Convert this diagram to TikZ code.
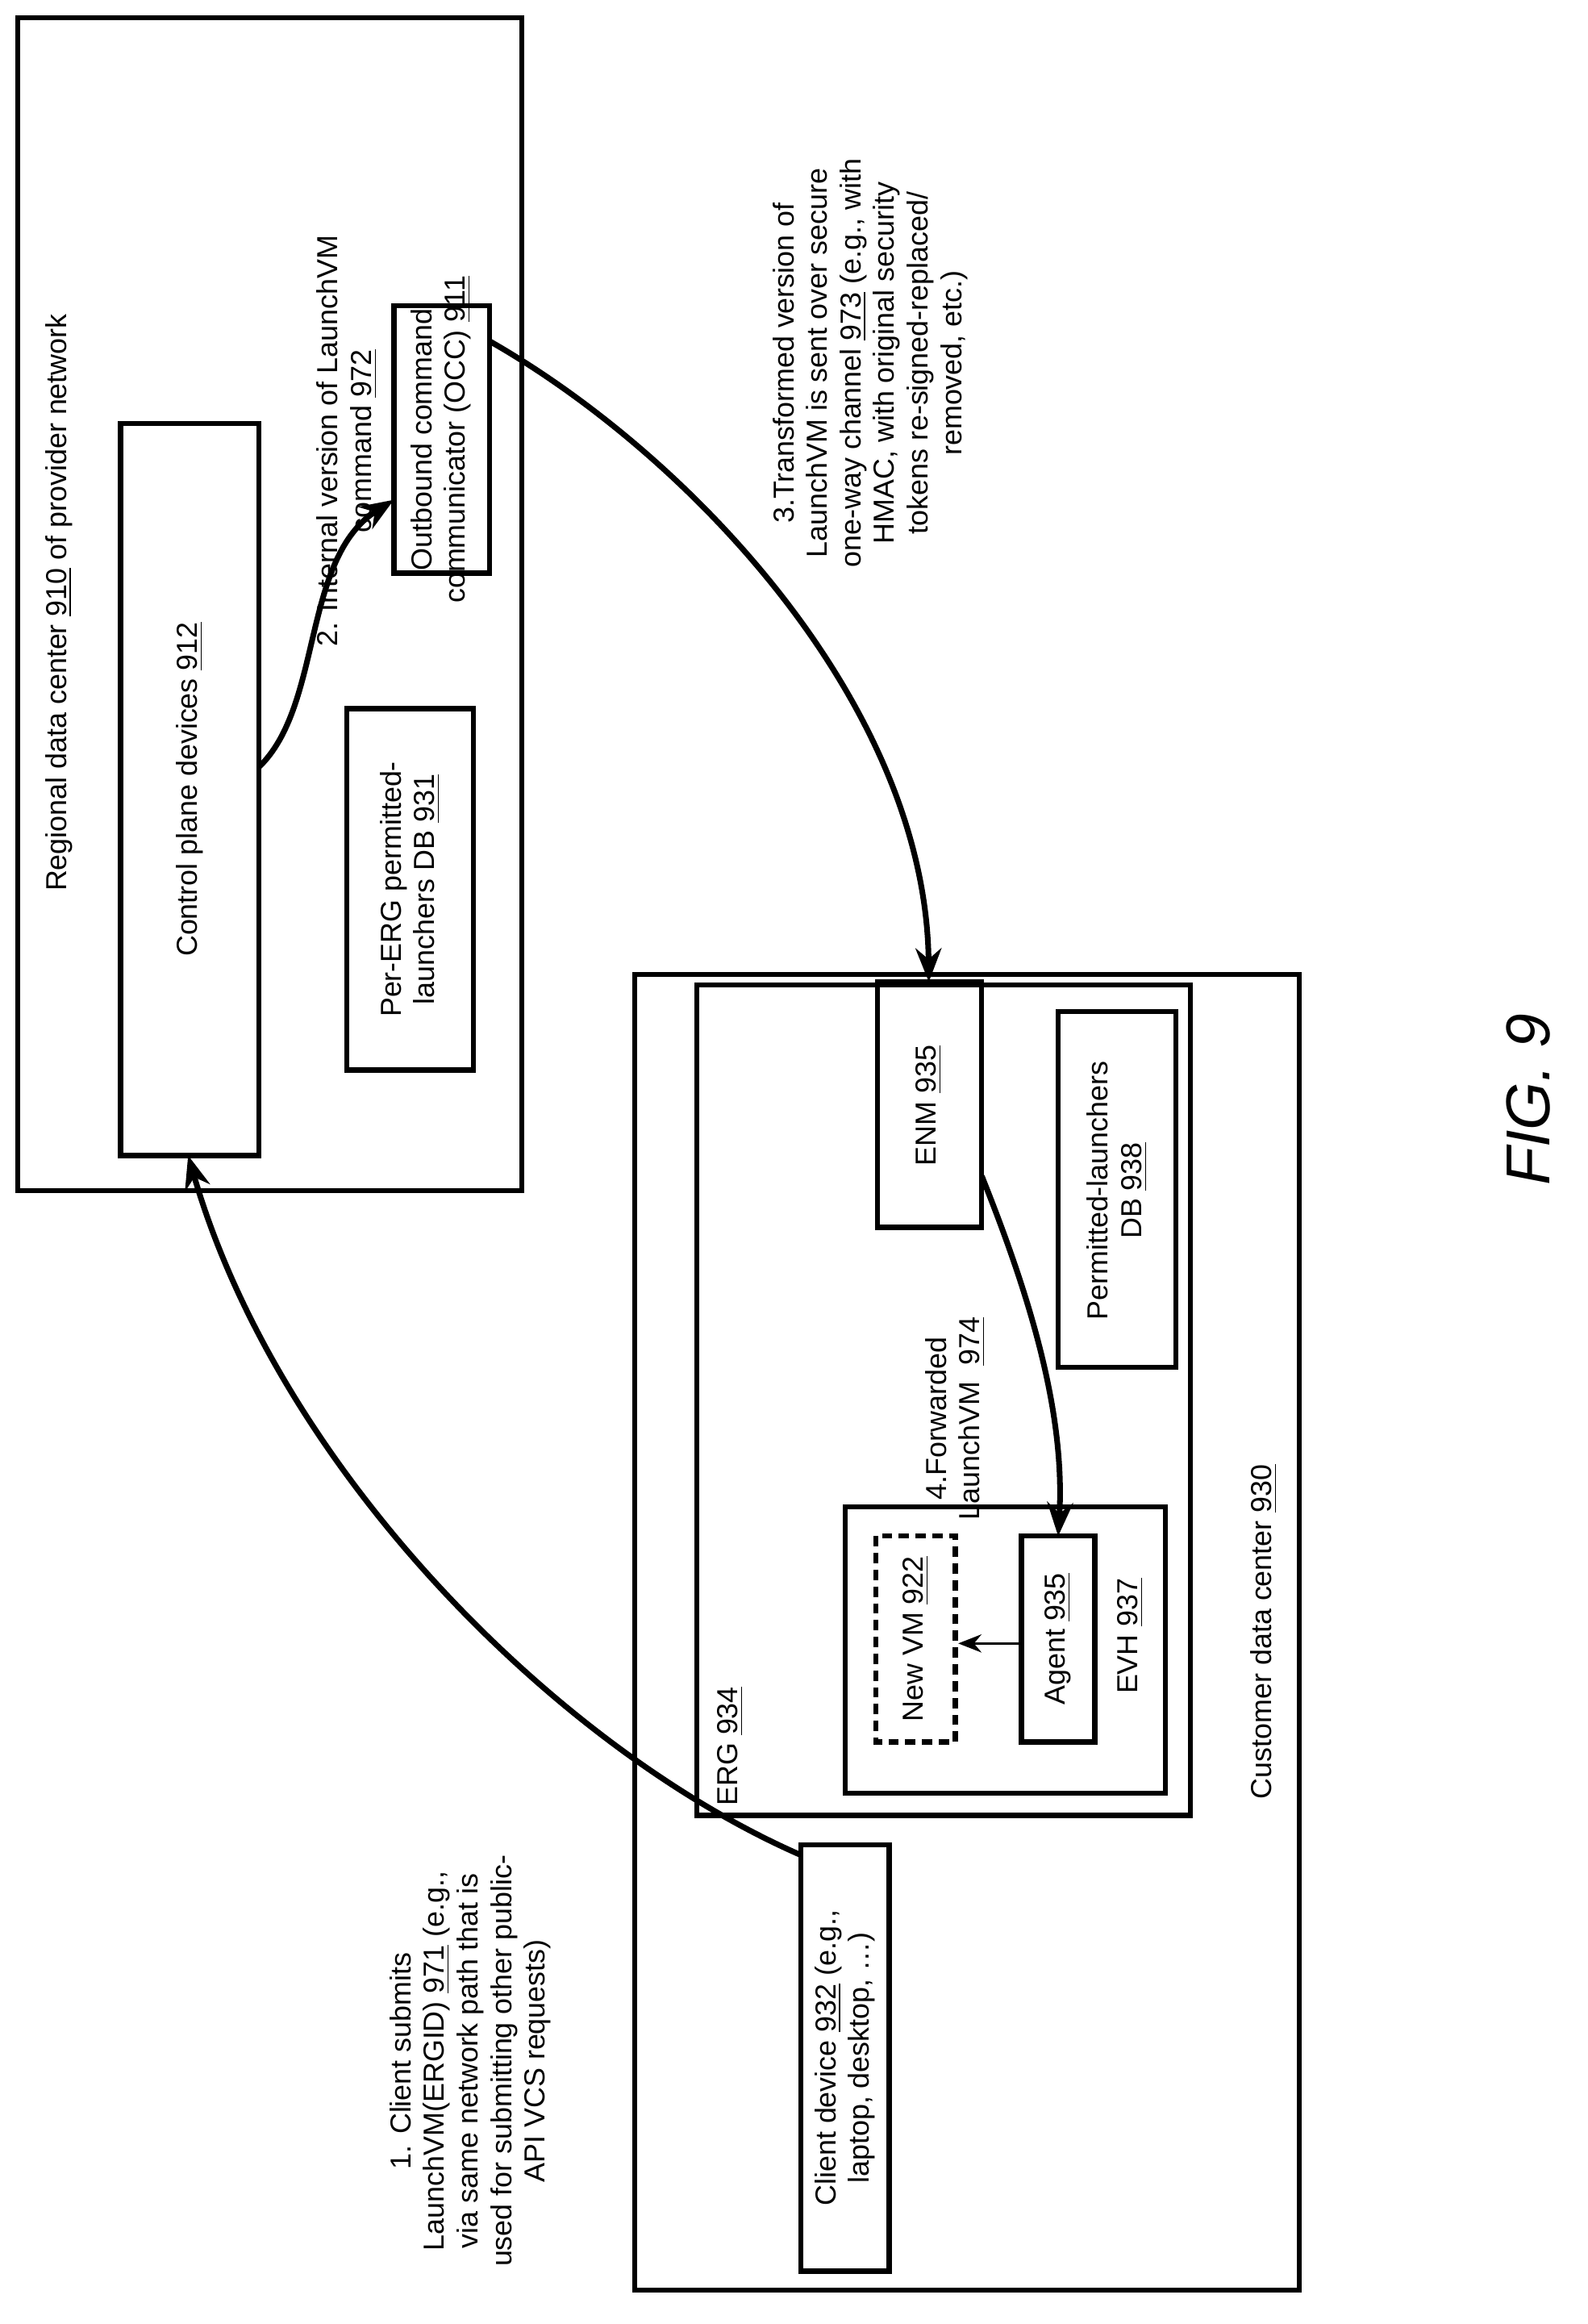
\documentclass[tikz,border=0pt]{standalone}
\usepackage{fontspec}
\setmainfont{Liberation Sans}
\usetikzlibrary{arrows.meta}
\begin{document}
\begin{tikzpicture}[x=0.02cm,y=-0.02cm,
  box/.style={draw,line width=2pt},
  txt/.style={rotate=90,align=center,font=\fontsize{11.2}{13}\selectfont},
  arr/.style={line width=2.2pt,-{Stealth[length=13pt,width=10pt]}}]
\useasboundingbox (0,0) rectangle (1080,1581);
% regional
\draw[box] (12,12) rectangle (355,810);
\node[txt] (regt) at (40,410) {Regional data center \underline{910} of provider network};
\draw[box] (82,288) rectangle (176,786);
\node[txt] (cpt) at (129,537) {Control plane devices \underline{912}};
\draw[box] (268,208) rectangle (333,390);
\node[txt] (occ) at (300,299) {Outbound command\\communicator (OCC) \underline{911}};
\draw[box] (236,482) rectangle (322,728);
\node[txt] (db931) at (279,605) {Per-ERG permitted-\\launchers DB \underline{931}};
\node[txt] (l2) at (236,300) {2. Internal version of LaunchVM\\command \underline{972}};
\node[txt] (l3) at (592,247) {3.Transformed version of\\LaunchVM is sent over secure\\one-way channel \underline{973} (e.g., with\\HMAC, with original security\\tokens re-signed-replaced/\\removed, etc.)};
% customer
\draw[box] (432,663) rectangle (884,1558);
\node[txt] (cdt) at (860,1110) {Customer data center \underline{930}};
\draw[box] (474,670) rectangle (810,1235);
\node[txt] (erg) at (497,1188) {ERG \underline{934}};
\draw[box] (597,668) rectangle (668,835);
\node[txt] (enm) at (632,752) {ENM \underline{935}};
\draw[box] (720,688) rectangle (800,930);
\node[txt] (pdb) at (760,810) {Permitted-launchers\\DB \underline{938}};
\draw[box] (575,1025) rectangle (793,1220);
\node[txt] (evh) at (769,1113) {EVH \underline{937}};
\draw[box] (695,1045) rectangle (745,1185);
\node[txt] (agent) at (720,1115) {Agent \underline{935}};
\draw[box,dashed,dash pattern=on 4pt off 2.5pt] (596,1045) rectangle (650,1185);
\node[txt] (nvm) at (623,1115) {New VM \underline{922}};
\node[txt] (l4) at (650,965) {4.Forwarded\\LaunchVM\ \ \underline{974}};
\draw[box] (545,1255) rectangle (605,1545);
\node[txt] (client) at (575,1400) {Client device \underline{932} (e.g.,\\laptop, desktop, \dots)};
\node[txt] (l1) at (320,1402) {1. Client submits\\LaunchVM(ERGID) \underline{971} (e.g.,\\via same network path that is\\used for submitting other public-\\API VCS requests)};
\node[rotate=90,font=\itshape\fontsize{24}{28}\selectfont] (fig) at (1040,748) {FIG. 9};
% coordinates for arrows
\coordinate (cpTop) at (176,522);
\coordinate (occL) at (268,340);
\coordinate (occR) at (333,232);
\coordinate (enmT) at (632,668);
\coordinate (enmB) at (668,800);
\coordinate (agT) at (720,1045);
\coordinate (agL) at (695,1118);
\coordinate (nvmR) at (652,1118);
\coordinate (clTL) at (545,1262);
\coordinate (cpB) at (128,786);
\draw[arr] (cpTop) .. controls (220,480) and (205,380) .. (occL);
\draw[arr] (occR) .. controls (470,310) and (630,480) .. (enmT);
\draw[arr] (enmB) .. controls (700,880) and (725,960) .. (agT);
\draw[line width=1pt,-{Stealth[length=9pt,width=7pt]}] (agL) -- (nvmR);
\draw[arr] (clTL) .. controls (380,1190) and (190,1000) .. (cpB);
\end{tikzpicture}
\end{document}
